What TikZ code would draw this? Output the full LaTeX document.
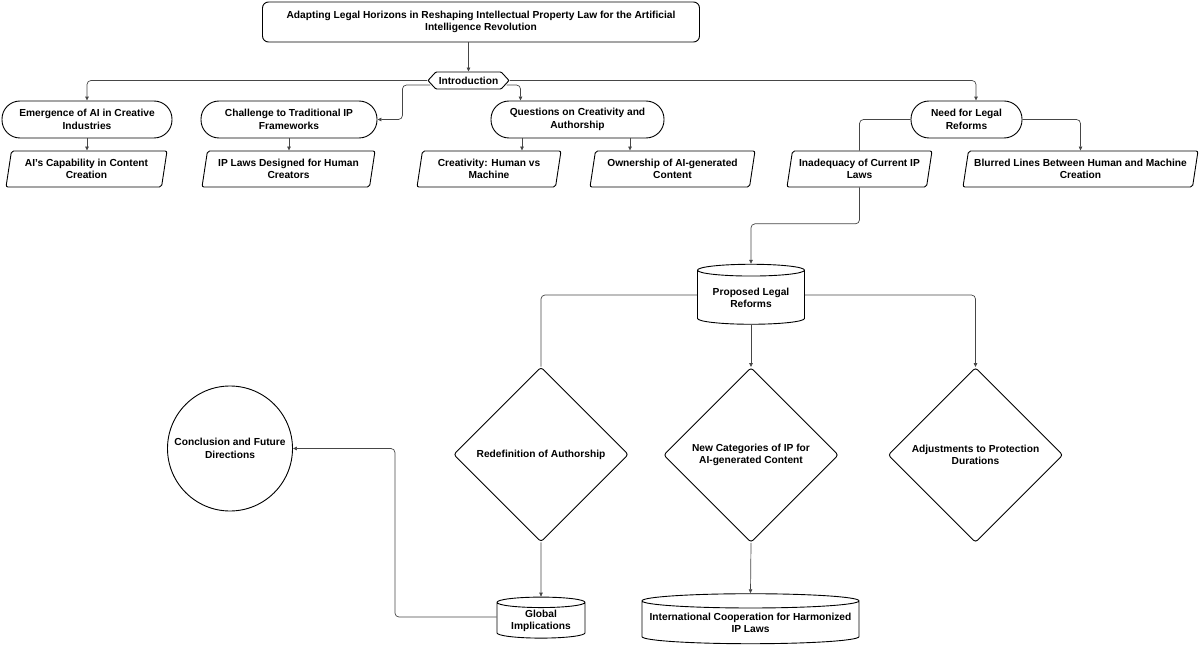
\documentclass[tikz,border=0pt]{standalone}
\usepackage{fontspec}
\setmainfont{Liberation Sans}
\usepackage{xcolor}
\definecolor{edgegray}{RGB}{70,70,70}
\usepackage{tikz}
\usetikzlibrary{arrows.meta}
\usetikzlibrary{shapes.geometric}
\usetikzlibrary{shapes.symbols}
\newcommand{\heighttopic}{37pt}
\newcommand{\heightdetail}{36pt}
\newcommand{\sizechoice}{175pt}
\tikzset{
    common/.style={draw, fill=white, line width=0.9pt, align=center, inner sep=1pt,
        font=\bfseries\fontsize{10.2}{12.5}\selectfont},
    titlebox/.style={common, rectangle, rounded corners=6pt, minimum width=437pt, minimum height=40pt},
    introbox/.style={common, signal, signal to=west and east, signal pointer angle=95,
        rounded corners=1pt, minimum width=81pt, minimum height=17pt, inner xsep=1pt},
    topic/.style={common, rectangle, rounded corners=18pt, minimum height=\heighttopic},
    detail/.style={common, trapezium, trapezium left angle=76, trapezium right angle=104,
        trapezium stretches body=true, rounded corners=2pt, minimum height=\heightdetail},
    store/.style={common, cylinder, shape border rotate=90},
    choice/.style={common, diamond, rounded corners=3pt, minimum width=\sizechoice, minimum height=\sizechoice},
    ending/.style={common, circle, minimum size=125pt},
    link/.style={draw=edgegray, line width=0.7pt, rounded corners=4pt, -{Triangle[length=4pt,width=3.5pt]}},
    bare/.style={link, -}
}

\begin{document}
\begin{tikzpicture}[x=1pt, y=-1pt]
    \useasboundingbox (0,0) rectangle (1200,647);

    % top levels
    \node[titlebox] (title) at (481,22)
        {Adapting Legal Horizons in Reshaping Intellectual Property Law for the Artificial\\Intelligence Revolution};
    \node[introbox] (intro) at (468.5,80.5) {Introduction};

    \node[topic, minimum width=170pt] (emergence) at (87,119.5) {Emergence of AI in Creative\\Industries};
    \node[topic, minimum width=176pt] (challenge) at (289,119.5) {Challenge to Traditional IP\\Frameworks};
    \node[topic, minimum width=173pt] (questions) at (577.5,119.5) {Questions on Creativity and\\Authorship};
    \node[topic, minimum width=111pt] (needreform) at (966.5,119.5) {Need for Legal\\Reforms};

    \node[detail, minimum width=161pt] (capability) at (86.5,169) {AI's Capability in Content\\Creation};
    \node[detail, minimum width=173pt] (humanlaws) at (288.5,169) {IP Laws Designed for Human\\Creators};
    \node[detail, minimum width=144pt] (creativity) at (489,169) {Creativity: Human vs\\Machine};
    \node[detail, minimum width=165pt] (ownership) at (672.5,169) {Ownership of AI-generated\\Content};
    \node[detail, minimum width=145pt] (inadequacy) at (859.5,169) {Inadequacy of Current IP\\Laws};
    \node[detail, minimum width=235pt] (blurred) at (1080.5,169) {Blurred Lines Between Human and Machine\\Creation};

    % reforms
    \node[store, aspect=0.15, minimum width=107pt, minimum height=60pt] (proposed) at (751,298) {Proposed Legal\\Reforms};
    \node[choice] (redefinition) at (541,454.5) {Redefinition of Authorship};
    \node[choice] (newcats) at (751,455) {New Categories of IP for\\AI-generated Content};
    \node[choice] (adjustments) at (975.5,455) {Adjustments to Protection\\Durations};
    \node[ending] (conclusion) at (230,448.5) {Conclusion and Future\\Directions};
    \node[store, aspect=0.17, minimum width=88pt, minimum height=41pt] (global) at (541,621) {Global\\Implications};
    \node[store, aspect=0.07, minimum width=217pt, minimum height=50pt] (intl) at (750.5,623) {International Cooperation for Harmonized\\IP Laws};

    % connectors
    \draw[link] (intro |- title.south) -- (intro.north);
    \draw[link] (intro.west) -| (emergence.north);
    \draw[link] ([xshift=3pt,yshift=-4.5pt]intro.west) -| ([xshift=25pt]challenge.east) -- (challenge.east);
    \draw[link] ([xshift=-3pt,yshift=-4.5pt]intro.east) -| ([xshift=-57pt]questions.north);
    \draw[link] (intro.east) -| ([xshift=9.5pt]needreform.north);

    \draw[link] (emergence.south) -- (emergence.south |- capability.north);
    \draw[link] (challenge.south) -- (challenge.south |- humanlaws.north);
    \draw[link] ([xshift=-55.5pt]questions.south) -- ([xshift=-55.5pt]questions.south |- creativity.north);
    \draw[link] ([xshift=52.5pt]questions.south) -- ([xshift=52.5pt]questions.south |- ownership.north);
    \draw[bare] (needreform.west) -| (inadequacy.north);
    \draw[link] (needreform.east) -| (blurred.north);

    \draw[link] (inadequacy.south) |- ([yshift=40pt]proposed.north) -- (proposed.north);
    \draw[bare] ([yshift=3pt]proposed.west) -| (redefinition.north);
    \draw[link] (proposed.south) -- (newcats.north);
    \draw[link] ([yshift=3pt]proposed.east) -| (adjustments.north);

    \draw[link] (redefinition.south) -- (global.north);
    \draw[link] (newcats.south) -- (intl.north);
    \draw[link] ([yshift=4pt]global.west) -| ([xshift=102pt]conclusion.east) -- (conclusion.east);
\end{tikzpicture}
\end{document}
